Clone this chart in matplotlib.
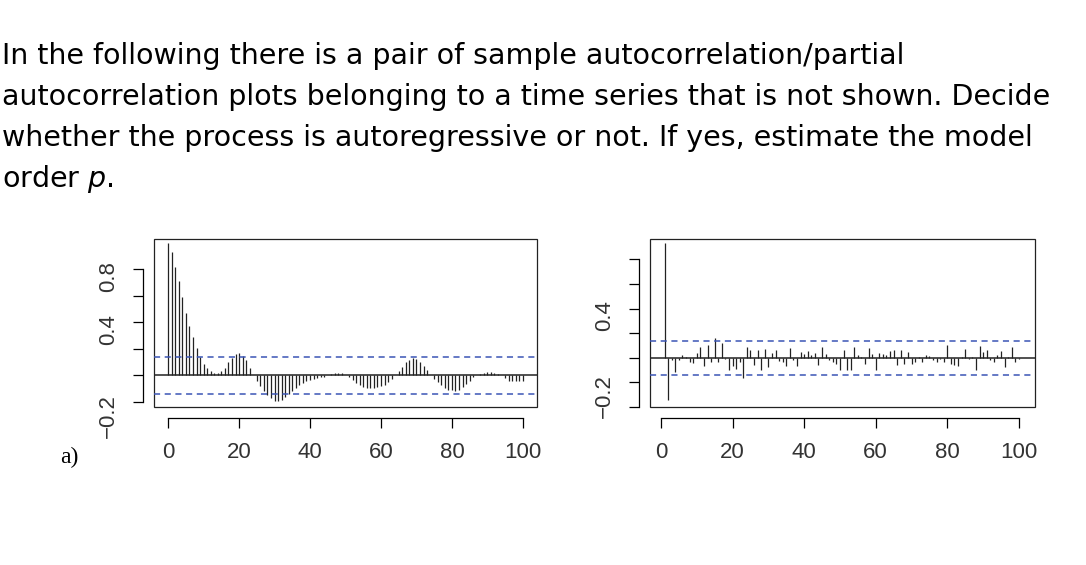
import matplotlib
matplotlib.use("Agg")
import matplotlib.pyplot as plt
import numpy as np

acf_vals = [1.0, 0.93, 0.82, 0.71, 0.59, 0.47, 0.37, 0.29, 0.21, 0.14,
            0.085, 0.055, 0.03, 0.02, 0.02, 0.035, 0.06, 0.10, 0.135, 0.16,
            0.17, 0.15, 0.12, 0.06, 0.005, -0.045, -0.08, -0.12, -0.15, -0.17,
            -0.19, -0.195, -0.185, -0.165, -0.14, -0.115, -0.095, -0.075, -0.06, -0.045,
            -0.035, -0.028, -0.02, -0.015, -0.008, 0.0, 0.008, 0.015, 0.022, 0.015,
            0.005, -0.015, -0.035, -0.06, -0.075, -0.09, -0.095, -0.097, -0.095, -0.09,
            -0.083, -0.07, -0.05, -0.025, 0.005, 0.03, 0.065, 0.10, 0.12, 0.13,
            0.125, 0.105, 0.075, 0.038, 0.0, -0.025, -0.05, -0.075, -0.095, -0.11,
            -0.113, -0.115, -0.108, -0.09, -0.065, -0.04, -0.015, 0.0, 0.01, 0.02,
            0.025, 0.028, 0.022, 0.01, 0.0, -0.02, -0.038, -0.045, -0.045, -0.045, -0.04]
pacf_vals = [0.93, -0.34, -0.02, -0.115, -0.015, 0.02, 0.01, -0.035, -0.04, 0.04,
             0.085, -0.07, 0.105, -0.035, 0.16, -0.035, 0.12, -0.01, -0.10, -0.07,
             -0.09, -0.035, -0.165, 0.085, 0.06, -0.055, 0.065, -0.10, 0.07, -0.075,
             0.04, 0.06, -0.03, -0.035, -0.07, 0.08, -0.02, -0.065, 0.045, 0.03,
             0.055, 0.02, 0.04, -0.06, 0.085, 0.03, -0.015, -0.035, -0.05, -0.10,
             0.065, -0.10, -0.10, 0.085, 0.02, 0.01, -0.05, 0.08, 0.03, -0.10,
             0.04, 0.03, 0.02, 0.055, 0.065, -0.055, 0.065, -0.05, 0.045, -0.05,
             -0.035, 0.01, -0.035, 0.02, 0.015, -0.02, -0.035, -0.01, -0.035, 0.105,
             -0.05, -0.055, -0.065, 0.01, 0.075, -0.01, 0.005, -0.10, 0.10, 0.045,
             0.06, -0.02, -0.035, 0.02, 0.055, -0.075, 0.01, 0.085, -0.035, -0.01]
conf = 0.137
xticks = [0, 20, 40, 60, 80, 100]

W, H = 1086, 565
plt.rcParams['font.family'] = ['Liberation Sans', 'DejaVu Sans']
fig = plt.figure(figsize=(W/100, H/100), dpi=100)

def ax_px(x0, y0, x1, y1):
    return fig.add_axes([x0/W, 1-y1/H, (x1-x0)/W, (y1-y0)/H])

def style(ax, xl, yl, yt, ylab):
    ax.set_xlim(*xl); ax.set_ylim(*yl)
    ax.set_xticks(xticks)
    ax.set_xticklabels([str(v) for v in xticks])
    ax.set_yticks(yt)
    ax.set_yticklabels([("%g" % v).replace('-', '\u2212') if v in ylab else '' for v in yt])
    ax.tick_params(length=7, width=0.9, pad=10, labelsize=16, labelcolor='#333333')
    ax.tick_params(axis='y', labelrotation=90)
    for lab in ax.get_yticklabels():
        lab.set_va('center')
    for s in ['top', 'right']:
        ax.spines[s].set_visible(False)
    for s in ['left', 'bottom']:
        ax.spines[s].set_linewidth(0.9)
        ax.spines[s].set_position(('outward', 8))
    ax.spines['left'].set_bounds(yt[0], yt[-1])
    ax.spines['bottom'].set_bounds(0, 100)
    ax.patch.set_visible(False)
    ax.add_patch(plt.Rectangle((0, 0), 1, 1, transform=ax.transAxes, fill=False,
                               lw=0.9, clip_on=False, color='#222222'))

# left ACF
ax1 = ax_px(154, 239, 537, 407)
lags = np.arange(len(acf_vals))
ax1.vlines(lags, 0, acf_vals, color='#222222', lw=0.9)
ax1.axhline(0, color='#222222', lw=1.1)
ax1.axhline(conf, color='#3b55b5', lw=1.1, ls=(0, (4, 3)))
ax1.axhline(-conf, color='#3b55b5', lw=1.1, ls=(0, (4, 3)))
style(ax1, (-4, 104), (-0.238, 1.03), [-0.2, 0.0, 0.2, 0.4, 0.6, 0.8], [-0.2, 0.4, 0.8])

# right PACF
ax2 = ax_px(650, 239, 1035, 407)
plags = np.arange(1, len(pacf_vals)+1)
ax2.vlines(plags, 0, pacf_vals, color='#222222', lw=0.9)
ax2.axhline(0, color='#222222', lw=1.1)
ax2.axhline(conf, color='#3b55b5', lw=1.1, ls=(0, (4, 3)))
ax2.axhline(-conf, color='#3b55b5', lw=1.1, ls=(0, (4, 3)))
style(ax2, (-3.07, 104.5), (-0.386, 0.966), [-0.4, -0.2, 0.0, 0.2, 0.4, 0.6, 0.8], [-0.2, 0.4])

fig.text(60/W, 1-457/H, "a)", fontsize=17, family='Liberation Serif', va='center')

lines = ["In the following there is a pair of sample autocorrelation/partial",
         "autocorrelation plots belonging to a time series that is not shown. Decide",
         "whether the process is autoregressive or not. If yes, estimate the model",
         "order $p$."]
for i, l in enumerate(lines):
    fig.text(2/W, 1-(56+i*41)/H, l, fontsize=20.5, va='center', family='DejaVu Sans')

fig.savefig("out.png", dpi=100)
